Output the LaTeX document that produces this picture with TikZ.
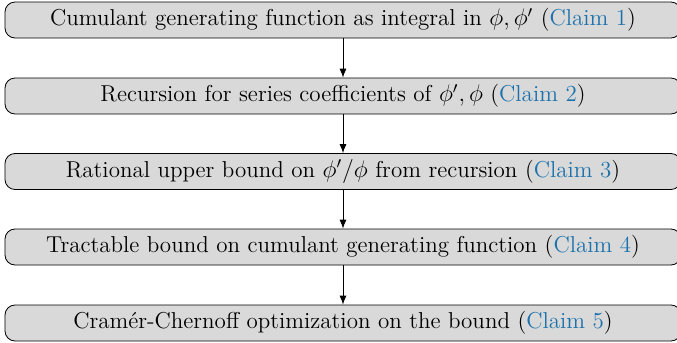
\documentclass[tikz,border=0pt]{standalone}
\usetikzlibrary{arrows.meta}
\definecolor{claimblue}{RGB}{28,114,172}
\newcommand{\claimref}[1]{(\textcolor{claimblue}{Claim #1})}
\begin{document}
\begin{tikzpicture}[x=1pt,y=1pt,
    stepbox/.style={shape=rectangle,rounded corners=5pt,draw=black,fill=black!15,
      minimum width=338pt,minimum height=18pt,inner sep=0pt,
      font=\fontsize{11.5}{13.5}\selectfont}]
            \useasboundingbox (0,0) rectangle (338.5,-171.5);
            \node[stepbox] (C1) at (171.5,-10) {Cumulant generating function as integral in $\phi, \phi'$ \claimref{1}};
            \node[stepbox] (C2) at (171.5,-48) {Recursion for series coefficients of $\phi', \phi$ \claimref{2}};
            \node[stepbox] (C3) at (171.5,-85.75) {Rational upper bound on $\phi'/\phi$ from recursion \claimref{3}};
            \node[stepbox] (C4) at (171.5,-123.5) {Tractable bound on cumulant generating function \claimref{4}};
            \node[stepbox] (C5) at (171.5,-161.5) {Cram\'er-Chernoff optimization on the bound \claimref{5}};

            \path [-{Latex[length=4.5pt,width=3.5pt]}] (C1) edge (C2);
            \path [-{Latex[length=4.5pt,width=3.5pt]}] (C2) edge (C3);
            \path [-{Latex[length=4.5pt,width=3.5pt]}] (C3) edge (C4);
            \path [-{Latex[length=4.5pt,width=3.5pt]}] (C4) edge (C5);
        \end{tikzpicture}
\end{document}
